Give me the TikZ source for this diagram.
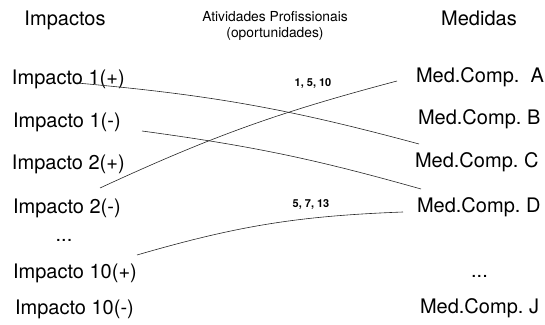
\documentclass[tikz,border=0pt]{standalone}
\usepackage{fontspec}
\setmainfont{TeX Gyre Heros}
\usetikzlibrary{arrows,shapes,positioning}

\begin{document}
\begin{tikzpicture}[x=1pt, y=1pt,
  every node/.style={inner sep=0pt, outer sep=0pt},
  head/.style={anchor=base, font=\fontsize{20}{24}\selectfont},
  item/.style={anchor=base west, font=\fontsize{20}{24}\selectfont},
  acts/.style={anchor=base, font=\fontsize{13.8}{16}\selectfont},
  nums/.style={anchor=base, font=\fontsize{11}{13}\selectfont\bfseries},
  link/.style={line width=0.6pt, black!85}]
\useasboundingbox (0,0) rectangle (545,324);

\node[head] (imp) at (65,298) {Impactos};
\node[acts] (ativ) at (275,302.5) {Atividades Profissionais};
\node[acts] (opor) at (275,286) {(oportunidades)};
\node[head] (med) at (479,298) {Medidas};

\node[item] (i1p) at (12,239) {Impacto 1(+)};
\node[item] (i1m) at (13,196) {Impacto 1(-)};
\node[item] (i2p) at (12,154) {Impacto 2(+)};
\node[item] (i2m) at (13,111) {Impacto 2(-)};
\node[head] (ldots) at (64,83) {...};
\node[item] (i10p) at (13,46) {Impacto 10(+)};
\node[item] (i10m) at (15,10) {Impacto 10(-)};

\node[item] (ma) at (416,241) {Med.Comp.\ \ A};
\node[item] (mb) at (418,199) {Med.Comp.\ B};
\node[item] (mc) at (415,157) {Med.Comp.\ C};
\node[item] (md) at (417,112) {Med.Comp.\ D};
\node[head] (rdots) at (479.5,47) {...};
\node[item] (mj) at (420,11) {Med.Comp.\ J};

\node[nums] (n1) at (313,237) {1, 5, 10};
\node[nums] (n2) at (311,117) {5, 7, 13};

\draw[link] ([shift={(65,2)}]i1p.base west) to[bend left=5] ([shift={(4,23)}]mc.base west);
\draw[link] ([shift={(129,-3)}]i1m.base west) to[bend left=4] ([shift={(4,23)}]md.base west);
\draw[link] ([shift={(87,25)}]i2m.base west) to[bend left=5] ([shift={(-19,2)}]ma.base west);
\draw[link] ([shift={(124,23)}]i10p.base west) to[bend left=7] ([shift={(-14,0)}]md.base west);

\end{tikzpicture}
\end{document}
